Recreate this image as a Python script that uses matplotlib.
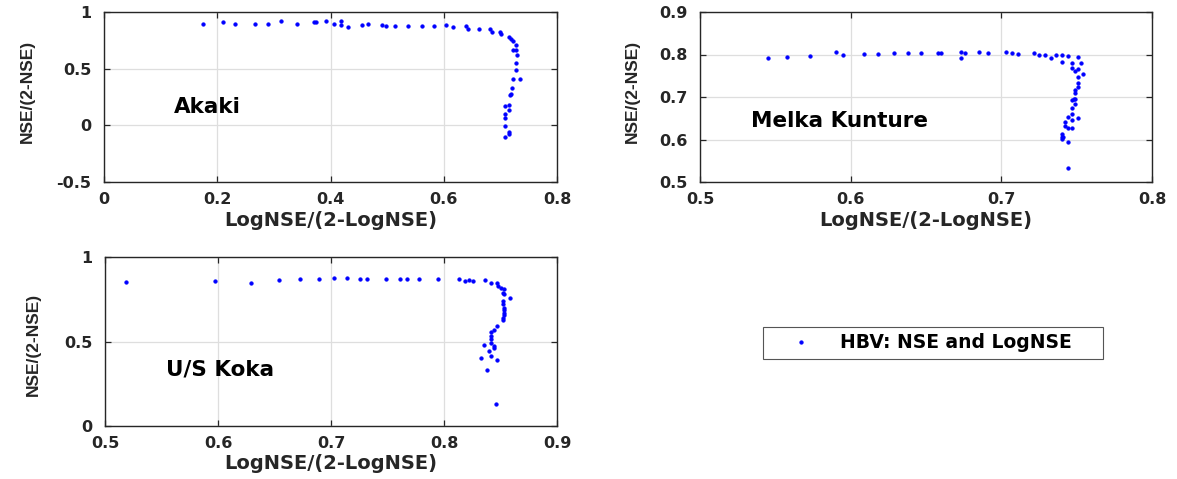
import matplotlib
matplotlib.use("Agg")
import matplotlib.pyplot as plt
from matplotlib.lines import Line2D

# ---------------- data ----------------
akaki_log = [0.175,0.210,0.232,0.267,0.290,0.313,0.341,0.370,0.374,0.392,0.406,0.418,0.418,0.431,0.456,0.466,0.491,0.498,0.514,0.537,0.562,0.582,0.604,0.617,0.639,0.642,0.662,0.681,0.685,0.700,0.701,0.715,0.719,0.722,0.727,0.722,0.727,0.730,0.727,0.727,0.723,0.734,0.721,0.719,0.717,0.709,0.715,0.715,0.708,0.708,0.708,0.715,0.715,0.708]
akaki_nse = [0.897,0.914,0.894,0.891,0.891,0.917,0.897,0.914,0.914,0.923,0.894,0.920,0.882,0.870,0.882,0.897,0.888,0.879,0.876,0.873,0.873,0.873,0.882,0.870,0.879,0.850,0.847,0.847,0.826,0.823,0.805,0.776,0.764,0.740,0.708,0.661,0.661,0.617,0.546,0.490,0.413,0.413,0.333,0.274,0.268,0.171,0.177,0.133,0.100,0.062,-0.006,-0.056,-0.074,-0.103]

melka_log = [0.545,0.558,0.573,0.590,0.595,0.609,0.618,0.629,0.638,0.647,0.658,0.660,0.673,0.673,0.676,0.685,0.691,0.703,0.707,0.711,0.722,0.725,0.729,0.733,0.736,0.740,0.744,0.751,0.740,0.747,0.753,0.747,0.749,0.751,0.754,0.751,0.751,0.751,0.749,0.749,0.748,0.749,0.747,0.749,0.747,0.747,0.744,0.751,0.747,0.742,0.742,0.744,0.747,0.740,0.740,0.741,0.740,0.744,0.744]
melka_nse = [0.791,0.794,0.797,0.805,0.798,0.801,0.801,0.804,0.804,0.804,0.804,0.804,0.806,0.791,0.803,0.806,0.803,0.806,0.803,0.801,0.803,0.798,0.798,0.792,0.798,0.798,0.797,0.794,0.783,0.781,0.781,0.768,0.762,0.767,0.755,0.747,0.732,0.724,0.716,0.710,0.695,0.696,0.693,0.683,0.675,0.661,0.654,0.650,0.646,0.642,0.632,0.627,0.626,0.614,0.606,0.606,0.602,0.595,0.534]

koka_log = [0.519,0.597,0.629,0.654,0.673,0.689,0.703,0.714,0.726,0.732,0.749,0.761,0.767,0.778,0.795,0.813,0.819,0.822,0.826,0.836,0.842,0.847,0.848,0.850,0.853,0.852,0.853,0.858,0.852,0.852,0.853,0.853,0.853,0.853,0.852,0.852,0.847,0.844,0.842,0.842,0.842,0.842,0.835,0.844,0.844,0.840,0.842,0.833,0.847,0.838,0.846]
koka_nse = [0.852,0.858,0.848,0.864,0.870,0.870,0.874,0.876,0.872,0.872,0.872,0.868,0.868,0.870,0.870,0.870,0.858,0.864,0.858,0.862,0.848,0.846,0.826,0.816,0.812,0.787,0.779,0.757,0.737,0.721,0.698,0.684,0.668,0.654,0.638,0.625,0.593,0.569,0.559,0.534,0.514,0.490,0.480,0.474,0.461,0.441,0.415,0.403,0.389,0.334,0.129]

station_names = ["Akaki", "Melka Kunture", "U/S Koka"]
akaki_xticks = [0, 0.2, 0.4, 0.6, 0.8]
akaki_xticklabels = ["0", "0.2", "0.4", "0.6", "0.8"]
akaki_yticks = [-0.5, 0, 0.5, 1]
akaki_yticklabels = ["-0.5", "0", "0.5", "1"]
melka_xticks = [0.5, 0.6, 0.7, 0.8]
melka_xticklabels = ["0.5", "0.6", "0.7", "0.8"]
melka_yticks = [0.5, 0.6, 0.7, 0.8, 0.9]
melka_yticklabels = ["0.5", "0.6", "0.7", "0.8", "0.9"]
koka_xticks = [0.5, 0.6, 0.7, 0.8, 0.9]
koka_xticklabels = ["0.5", "0.6", "0.7", "0.8", "0.9"]
koka_yticks = [0, 0.5, 1]
koka_yticklabels = ["0", "0.5", "1"]
xlabel_text = "LogNSE/(2-LogNSE)"
ylabel_text = "NSE/(2-NSE)"
legend_label = "HBV: NSE and LogNSE"

# ---------------- style ----------------
W, H = 1177, 479
fig = plt.figure(figsize=(W / 100, H / 100), dpi=100)
fig.patch.set_facecolor("white")

SPINE = "#262626"
BLUE = (0, 0, 1)
TICKFONT = dict(family="DejaVu Sans", weight="bold", size=11.5)
LABFONT = dict(family="DejaVu Sans", weight="bold", size=14)
YLABFONT = dict(family="Liberation Sans", weight="bold", size=12.5)
NAMEFONT = dict(family="DejaVu Sans", weight="bold", size=15.5)


def px_axes(left, top, right, bottom):
    return fig.add_axes([left / W, 1 - bottom / H, (right - left) / W, (bottom - top) / H])


panels = [
    dict(box=(104, 12, 557, 182), x=akaki_log, y=akaki_nse, xlim=(0, 0.8), ylim=(-0.5, 1),
         xt=akaki_xticks, xtl=akaki_xticklabels, yt=akaki_yticks, ytl=akaki_yticklabels,
         name=station_names[0], npos=(0.123, 0.165), ylc=(-0.170, 0.53), xlc=(0.5, -0.229)),
    dict(box=(700, 12, 1152, 182), x=melka_log, y=melka_nse, xlim=(0.5, 0.8), ylim=(0.5, 0.9),
         xt=melka_xticks, xtl=melka_xticklabels, yt=melka_yticks, ytl=melka_yticklabels,
         name=station_names[1], npos=(0.534, 0.644), ylc=(-0.150, 0.53), xlc=(0.5, -0.229)),
    dict(box=(105, 257, 557, 426), x=koka_log, y=koka_nse, xlim=(0.5, 0.9), ylim=(0, 1),
         xt=koka_xticks, xtl=koka_xticklabels, yt=koka_yticks, ytl=koka_yticklabels,
         name=station_names[2], npos=(0.554, 0.332), ylc=(-0.159, 0.485), xlc=(0.5, -0.219)),
]

for p in panels:
    ax = px_axes(*p["box"])
    ax.plot(p["x"], p["y"], linestyle="none", marker="o", markersize=2.7,
            markerfacecolor=BLUE, markeredgecolor=BLUE, markeredgewidth=0.3, zorder=3)
    ax.set_xlim(*p["xlim"])
    ax.set_ylim(*p["ylim"])
    ax.set_xticks(p["xt"])
    ax.set_xticklabels(p["xtl"], fontdict=TICKFONT, color=SPINE)
    ax.set_yticks(p["yt"])
    ax.set_yticklabels(p["ytl"], fontdict=TICKFONT, color=SPINE)
    ax.tick_params(axis="both", direction="in", length=4, width=0.9, color=SPINE,
                   top=True, right=True)
    ax.tick_params(axis="x", pad=7)
    ax.tick_params(axis="y", pad=9)
    ax.grid(True, color="#dedede", linewidth=0.9)
    ax.set_axisbelow(True)
    for s in ax.spines.values():
        s.set_color(SPINE)
        s.set_linewidth(1.0)
    ax.set_xlabel(xlabel_text, fontdict=LABFONT, color=SPINE)
    ax.set_ylabel(ylabel_text, fontdict=YLABFONT, color=SPINE)
    ax.xaxis.set_label_coords(*p["xlc"])
    ax.yaxis.set_label_coords(*p["ylc"])
    ax.xaxis.label.set_verticalalignment("center")
    ax.yaxis.label.set_verticalalignment("center")
    ax.text(p["npos"][0], p["npos"][1], p["name"], fontdict=NAMEFONT, color="black",
            ha="left", va="center", zorder=4)

# legend
handle = Line2D([], [], linestyle="none", marker="o", markersize=2.7,
                markerfacecolor=BLUE, markeredgecolor=BLUE, markeredgewidth=0.3)
leg = fig.legend([handle], [legend_label], loc="center",
                 bbox_to_anchor=(763 / W, 1 - 358 / H, 340 / W, 30 / H), mode="expand",
                 borderaxespad=0, borderpad=0.35, handlelength=3.3, handletextpad=0.45,
                 frameon=True, fancybox=False, shadow=False, framealpha=1,
                 prop=dict(family="DejaVu Sans", weight="bold", size=13.5))
leg.get_frame().set_edgecolor("#555555")
leg.get_frame().set_linewidth(0.8)
for t in leg.get_texts():
    t.set_color("black")

fig.savefig("out.png", dpi=100, facecolor="white")
